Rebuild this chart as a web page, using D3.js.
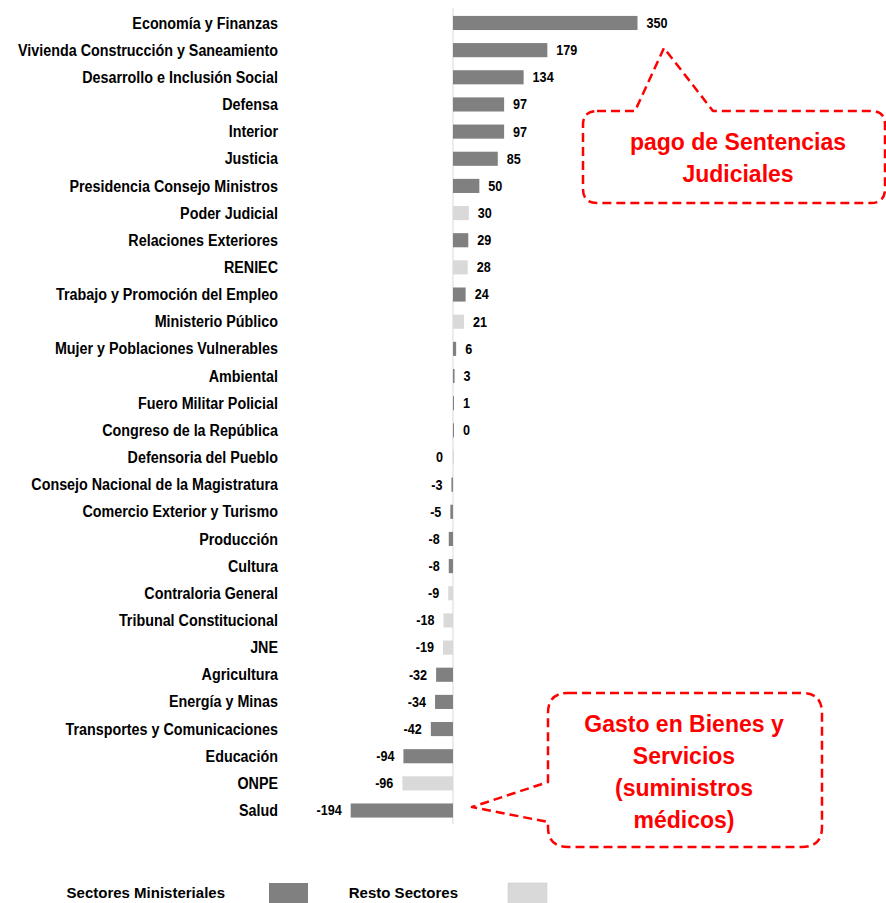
<!DOCTYPE html>
<html>
<head>
<meta charset="utf-8">
<script src="https://cdn.jsdelivr.net/npm/d3@7"></script>
<style>
  body { margin: 0; background: #fff; }
  svg { display: block; font-family: "Liberation Sans", Arial, sans-serif; font-weight: bold; }
</style>
</head>
<body>
<svg id="chart" width="886" height="903"></svg>
<script>
// ---------- data ----------
const sectores = [
  "Economía y Finanzas", "Vivienda Construcción y Saneamiento", "Desarrollo e Inclusión Social",
  "Defensa", "Interior", "Justicia", "Presidencia Consejo Ministros", "Poder Judicial",
  "Relaciones Exteriores", "RENIEC", "Trabajo y Promoción del Empleo", "Ministerio Público",
  "Mujer y Poblaciones Vulnerables", "Ambiental", "Fuero Militar Policial", "Congreso de la República",
  "Defensoria del Pueblo", "Consejo Nacional de la Magistratura", "Comercio Exterior y Turismo",
  "Producción", "Cultura", "Contraloria General", "Tribunal Constitucional", "JNE",
  "Agricultura", "Energía y Minas", "Transportes y Comunicaciones", "Educación", "ONPE", "Salud"
];
const valores = [350, 179, 134, 97, 97, 85, 50, 30, 29, 28, 24, 21, 6, 3, 1, 0,
  0, -3, -5, -8, -8, -9, -18, -19, -32, -34, -42, -94, -96, -194];
// "M" = Sectores Ministeriales, "R" = Resto Sectores
const grupos = ["M", "M", "M", "M", "M", "M", "M", "R", "M", "R", "M", "R", "M", "M", "M", "M",
  "R", "M", "M", "M", "M", "R", "R", "R", "M", "M", "M", "M", "R", "M"];
const leyenda = [
  { key: "M", label: "Sectores Ministeriales" },
  { key: "R", label: "Resto Sectores" }
];

const color = d3.scaleOrdinal().domain(["M", "R"]).range(["#808080", "#d9d9d9"]);

const rows = sectores.map((s, i) => ({ sector: s, value: valores[i], group: grupos[i] }));

const svg = d3.select("#chart");

const x = d3.scaleLinear().domain([-194, 350]).range([350.7, 637.5]);
const y = d3.scaleBand()
  .domain(sectores)
  .range([9.4, 824.1])
  .paddingInner(0.48)
  .paddingOuter(0.24);

// squeeze text horizontally (the original uses a narrow font)
function condense(sel, k) {
  sel.each(function () {
    const w = this.getComputedTextLength();
    d3.select(this)
      .attr("textLength", w * k)
      .attr("lengthAdjust", "spacingAndGlyphs");
  });
}

// zero axis
svg.append("line")
  .attr("x1", x(0)).attr("x2", x(0))
  .attr("y1", 8).attr("y2", 824)
  .attr("stroke", "#d9d9d9").attr("stroke-width", 1);

// bars
svg.selectAll(".bar")
  .data(rows)
  .enter()
  .append("rect")
  .attr("class", "bar")
  .attr("x", d => d.value >= 0 ? x(0) : Math.min(x(d.value), x(0) - 1))
  .attr("y", d => y(d.sector))
  .attr("width", d => Math.max(1, Math.abs(x(d.value) - x(0))))
  .attr("height", y.bandwidth())
  .attr("fill", d => color(d.group));

// category labels
svg.selectAll(".cat")
  .data(rows)
  .enter()
  .append("text")
  .attr("class", "cat")
  .attr("x", 278)
  .attr("y", d => y(d.sector) + y.bandwidth() / 2)
  .attr("dy", "0.35em")
  .attr("text-anchor", "end")
  .attr("font-size", 16)
  .attr("fill", "#000")
  .text(d => d.sector)
  .call(condense, 0.895);

// value labels
const negZero = new Set(["Defensoria del Pueblo"]);
const isRight = d => d.value > 0 || (d.value === 0 && !negZero.has(d.sector));
svg.selectAll(".val")
  .data(rows)
  .enter()
  .append("text")
  .attr("class", "val")
  .attr("x", d => isRight(d)
    ? Math.max(x(d.value), x(0) + 1) + 9
    : Math.min(x(d.value), x(0) - 1) - 9)
  .attr("y", d => y(d.sector) + y.bandwidth() / 2)
  .attr("dy", "0.35em")
  .attr("text-anchor", d => isRight(d) ? "start" : "end")
  .attr("font-size", 14)
  .attr("fill", "#000")
  .text(d => d.value)
  .call(condense, 0.9);

// ---------- callouts ----------
function callout(pathD) {
  svg.append("path")
    .attr("d", pathD)
    .attr("fill", "#fff")
    .attr("stroke", "#ff0000")
    .attr("stroke-width", 2.5)
    .attr("stroke-dasharray", "9,5")
    .attr("stroke-linejoin", "round");
}

// top callout (pago de Sentencias Judiciales)
{
  const l = 583, t = 111, r = 885, b = 203, rad = 14;
  const p = d3.path();
  p.moveTo(l + rad, t);
  p.lineTo(635, t);
  p.lineTo(664, 48);
  p.lineTo(713, t);
  p.lineTo(r - rad, t);
  p.quadraticCurveTo(r, t, r, t + rad);
  p.lineTo(r, b - rad);
  p.quadraticCurveTo(r, b, r - rad, b);
  p.lineTo(l + rad, b);
  p.quadraticCurveTo(l, b, l, b - rad);
  p.lineTo(l, t + rad);
  p.quadraticCurveTo(l, t, l + rad, t);
  callout(p.toString());
  const lines = ["pago de Sentencias", "Judiciales"];
  svg.append("text")
    .attr("x", 738).attr("y", 150)
    .attr("text-anchor", "middle")
    .attr("font-size", 23)
    .attr("fill", "#ff0000")
    .selectAll("tspan")
    .data(lines)
    .enter()
    .append("tspan")
    .attr("x", 738)
    .attr("dy", (d, i) => i === 0 ? 0 : 32)
    .text(d => d);
}

// bottom callout (Gasto en Bienes y Servicios)
{
  const l = 548, t = 693, r = 822, b = 847, rad = 20;
  const p = d3.path();
  p.moveTo(l + rad, t);
  p.lineTo(r - rad, t);
  p.quadraticCurveTo(r, t, r, t + rad);
  p.lineTo(r, b - rad);
  p.quadraticCurveTo(r, b, r - rad, b);
  p.lineTo(l + rad, b);
  p.quadraticCurveTo(l, b, l, b - rad);
  p.lineTo(l, 822);
  p.lineTo(472, 807);
  p.lineTo(l, 782);
  p.lineTo(l, t + rad);
  p.quadraticCurveTo(l, t, l + rad, t);
  callout(p.toString());
  const lines = ["Gasto en Bienes y", "Servicios", "(suministros", "médicos)"];
  svg.append("text")
    .attr("x", 684).attr("y", 732)
    .attr("text-anchor", "middle")
    .attr("font-size", 23)
    .attr("fill", "#ff0000")
    .selectAll("tspan")
    .data(lines)
    .enter()
    .append("tspan")
    .attr("x", 684)
    .attr("dy", (d, i) => i === 0 ? 0 : 32)
    .text(d => d);
}

// ---------- legend ----------
const legendPos = [
  { tx: 225, sx: 269 },
  { tx: 458, sx: 508 }
];
leyenda.forEach((d, i) => {
  svg.append("text")
    .attr("x", legendPos[i].tx)
    .attr("y", 898)
    .attr("text-anchor", "end")
    .attr("font-size", 15)
    .attr("fill", "#000")
    .text(d.label);
  svg.append("rect")
    .attr("x", legendPos[i].sx)
    .attr("y", 883)
    .attr("width", 39)
    .attr("height", 22)
    .attr("fill", color(d.key))
    .attr("stroke", d.key === "R" ? "#c8c8c8" : "none")
    .attr("stroke-width", 0.5);
});
</script>
</body>
</html>
